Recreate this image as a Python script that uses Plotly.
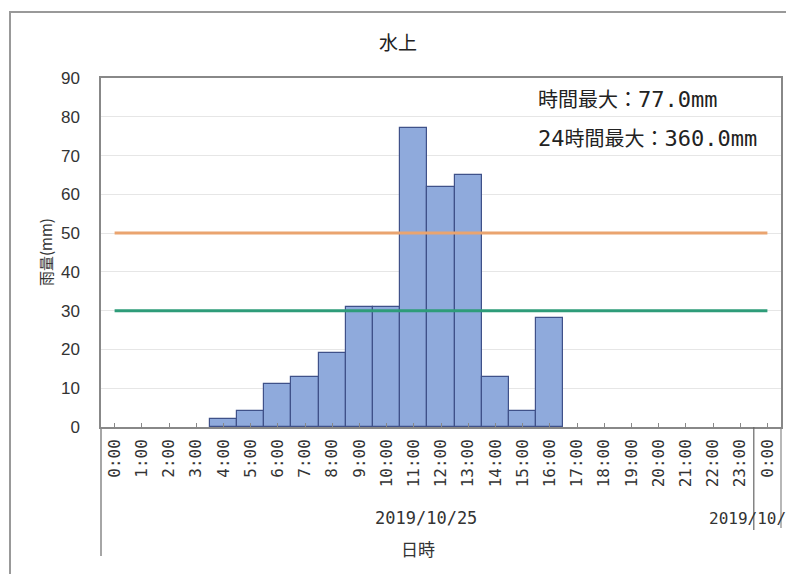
import plotly.graph_objects as go

hours = ["0:00", "1:00", "2:00", "3:00", "4:00", "5:00", "6:00", "7:00", "8:00", "9:00",
         "10:00", "11:00", "12:00", "13:00", "14:00", "15:00", "16:00", "17:00", "18:00",
         "19:00", "20:00", "21:00", "22:00", "23:00", "0:00"]
rain = [0, 0, 0, 0, 2, 4, 11, 13, 19, 31, 31, 77, 62, 65, 13, 4, 28, 0, 0, 0, 0, 0, 0, 0, 0]
warn_orange = [50] * len(hours)
warn_green = [30] * len(hours)
yticks = [0, 10, 20, 30, 40, 50, 60, 70, 80, 90]

xpos = list(range(len(hours)))
JP = "Noto Sans CJK JP"
MONO = "DejaVu Sans Mono"

fig = go.Figure()
fig.add_trace(go.Bar(x=xpos, y=[v if v > 0 else None for v in rain], width=1,
                     marker=dict(color="#8FAADC", line=dict(color="#3F5189", width=1.2))))
fig.add_trace(go.Scatter(x=xpos, y=warn_orange, mode="lines",
                         line=dict(color="#EAA46F", width=3)))
fig.add_trace(go.Scatter(x=xpos, y=warn_green, mode="lines",
                         line=dict(color="#2E9C79", width=3)))

# page has an 8px body margin; plot area target: x 101..781, y 78..427
fig.update_layout(
    width=794, height=574,
    margin=dict(l=93, r=21, t=70, b=155),
    paper_bgcolor="white", plot_bgcolor="white",
    showlegend=False, bargap=0,
    font=dict(family=JP, color="#333333"),
    xaxis=dict(range=[-0.5, len(hours) - 0.5], tickmode="array", tickvals=xpos, ticktext=hours,
               tickangle=-90, tickfont=dict(size=16, family=MONO, color="#333"),
               showline=True, linecolor="#888", linewidth=1.5, mirror=True,
               ticks="inside", ticklen=4, tickcolor="#888", showgrid=False, zeroline=False,
               ticklabelstandoff=4),
    yaxis=dict(range=[0, 90], tickmode="array", tickvals=yticks,
               tickfont=dict(size=17, family="Liberation Sans", color="#333"),
               showline=True, linecolor="#888", linewidth=1.5, mirror=True,
               gridcolor="#E6E6E6", gridwidth=1, zeroline=False, ticks="", ticklabelstandoff=16),
)

ph = 349.0
pw = 680.0
def py(v):
    return (427 - v) / ph
def px(v):
    return (v - 101) / pw

shapes = [
    dict(type="line", xref="paper", yref="paper", x0=0, x1=0, y0=0, y1=py(556),
         line=dict(color="#888", width=1.5)),
    dict(type="line", xref="x", yref="paper", x0=23.5, x1=23.5, y0=0, y1=py(530),
         line=dict(color="#666", width=1.2)),
    dict(type="line", xref="paper", yref="paper", x0=1, x1=1, y0=0, y1=py(528),
         line=dict(color="#888", width=1.2)),
    dict(type="rect", xref="paper", yref="paper", x0=px(10), x1=px(805), y0=py(12), y1=py(580),
         line=dict(color="#999", width=2)),
]
fig.update_layout(shapes=shapes)

def mono(s, size):
    return "<span style='font-family:%s;font-size:%dpx'>%s</span>" % (MONO, size, s)

ann = [
    dict(text="水上", x=px(398), y=py(42), font=dict(size=19, color="#222")),
    dict(text="時間最大：" + mono("77.0mm", 22), x=px(536), y=py(98), xanchor="left",
         font=dict(size=20, color="#222")),
    dict(text=mono("24", 22) + "時間最大：" + mono("360.0mm", 22), x=px(536), y=py(137),
         xanchor="left", font=dict(size=20, color="#222")),
    dict(text="2019/10/25", x=px(426), y=py(518), font=dict(size=17, family=MONO, color="#333")),
    dict(text="2019/10/", x=px(707), y=py(518), xanchor="left",
         font=dict(size=16, family=MONO, color="#333")),
    dict(text="日時", x=px(418), y=py(548), font=dict(size=17, color="#333")),
    dict(text="雨量(mm)", x=px(45), y=py(252), textangle=-90, font=dict(size=15, color="#333")),
]
for a in ann:
    a.update(xref="paper", yref="paper", showarrow=False)
    if "xanchor" not in a:
        a["xanchor"] = "center"
    a["yanchor"] = "middle"
fig.update_layout(annotations=ann)

fig.write_html("out.html")
